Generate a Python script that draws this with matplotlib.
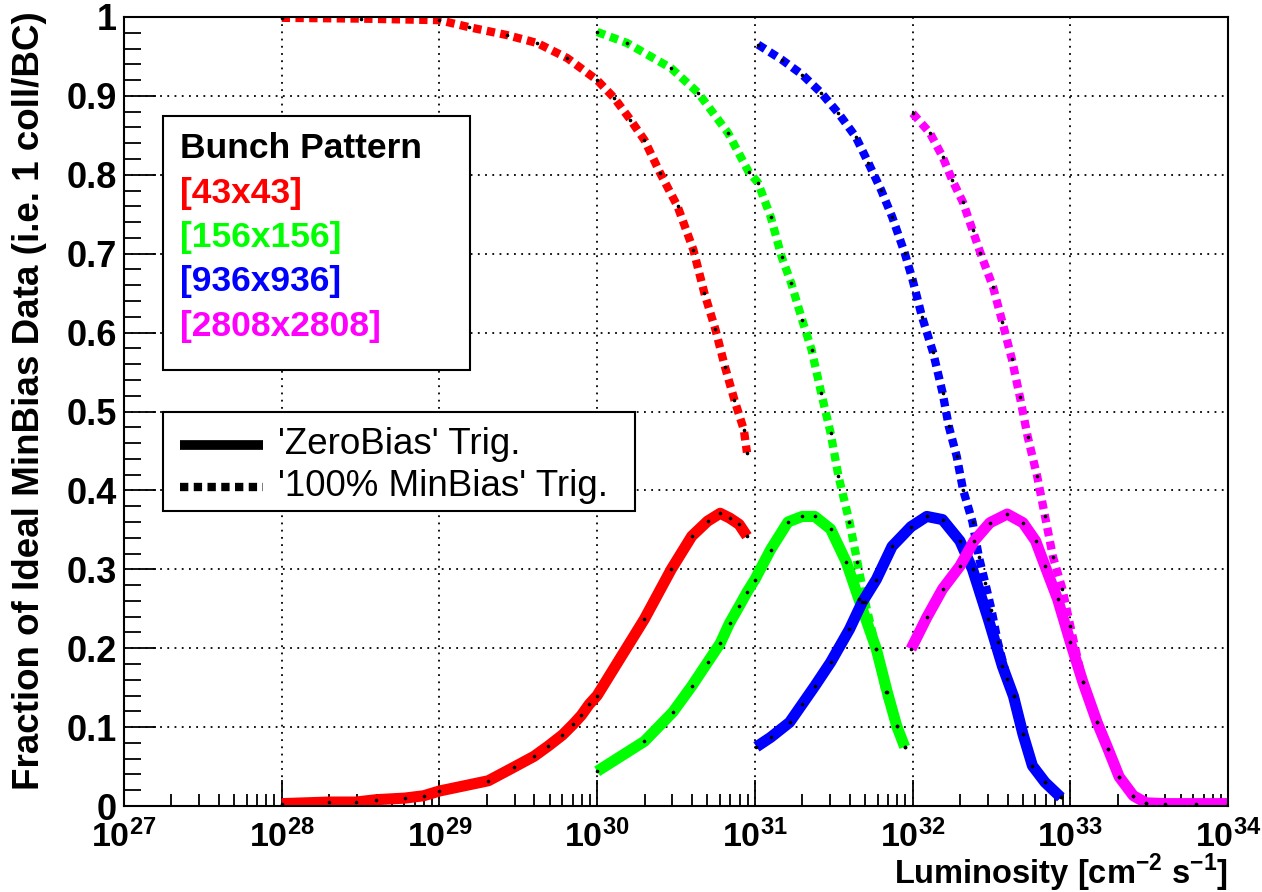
import numpy as np
import matplotlib.pyplot as plt
from matplotlib.patches import Rectangle
from matplotlib.lines import Line2D
from matplotlib.ticker import LogLocator, MultipleLocator, NullFormatter

plt.rcParams['font.family'] = ['Liberation Sans', 'DejaVu Sans']
plt.rcParams['mathtext.fontset'] = 'custom'
plt.rcParams['mathtext.rm'] = 'Liberation Sans'
plt.rcParams['mathtext.bf'] = 'Liberation Sans:bold'

# luminosity given as log10(L)
# 'ZeroBias' trigger (solid)
red_zb_lx = [28.0, 28.3, 28.47, 28.6, 28.78, 28.9, 29.0, 29.31, 29.47, 29.6, 29.69, 29.78,
             29.85, 29.9, 29.95, 30.0, 30.3, 30.47, 30.6, 30.7, 30.78, 30.84, 30.9, 30.95]
red_zb_y = [0.003, 0.005, 0.005, 0.008, 0.010, 0.013, 0.019, 0.032, 0.049, 0.063, 0.076, 0.090,
            0.104, 0.115, 0.129, 0.140, 0.237, 0.300, 0.342, 0.361, 0.371, 0.365, 0.357, 0.342]

green_zb_lx = [30.0, 30.3, 30.48, 30.6, 30.7, 30.78, 30.84, 30.9, 30.95, 31.0, 31.1, 31.21,
               31.3, 31.38, 31.48, 31.58, 31.66, 31.77, 31.84, 31.9, 31.95]
green_zb_y = [0.044, 0.082, 0.119, 0.152, 0.182, 0.206, 0.232, 0.253, 0.271, 0.287, 0.325, 0.360,
              0.367, 0.367, 0.351, 0.309, 0.262, 0.199, 0.144, 0.101, 0.075]

blue_zb_lx = [31.01, 31.1, 31.22, 31.3, 31.38, 31.48, 31.6, 31.68, 31.77, 31.87, 31.99, 32.09,
              32.19, 32.3, 32.38, 32.48, 32.57, 32.64, 32.7, 32.76, 32.84, 32.94]
blue_zb_y = [0.075, 0.087, 0.106, 0.129, 0.152, 0.182, 0.224, 0.258, 0.287, 0.329, 0.354, 0.367,
             0.363, 0.336, 0.300, 0.237, 0.177, 0.139, 0.091, 0.051, 0.030, 0.011]

mag_zb_lx = [31.99, 32.09, 32.19, 32.3, 32.39, 32.49, 32.6, 32.7, 32.78, 32.84, 32.92, 33.0,
             33.08, 33.17, 33.24, 33.31, 33.4, 33.48, 33.6, 33.8, 34.0]
mag_zb_y = [0.199, 0.239, 0.275, 0.304, 0.336, 0.359, 0.370, 0.359, 0.336, 0.304, 0.262, 0.208,
            0.157, 0.106, 0.072, 0.037, 0.013, 0.004, 0.003, 0.003, 0.003]

# '100% MinBias' trigger (dotted)
red_mb_lx = [28.0, 28.5, 29.0, 29.19, 29.43, 29.62, 29.81, 30.0, 30.11, 30.21, 30.3, 30.4,
             30.51, 30.61, 30.68, 30.75, 30.81, 30.87, 30.93, 30.95]
red_mb_y = [0.999, 0.998, 0.996, 0.987, 0.977, 0.967, 0.948, 0.920, 0.897, 0.870, 0.844, 0.802,
            0.760, 0.705, 0.650, 0.604, 0.557, 0.515, 0.477, 0.448]

green_mb_lx = [30.0, 30.19, 30.47, 30.64, 30.83, 30.96, 31.02, 31.1, 31.17, 31.23, 31.3, 31.36,
               31.42, 31.48, 31.53, 31.6, 31.65, 31.7, 31.77, 31.83, 31.9, 31.95]
green_mb_y = [0.981, 0.967, 0.935, 0.904, 0.853, 0.804, 0.790, 0.747, 0.696, 0.663, 0.616, 0.578,
              0.524, 0.473, 0.418, 0.360, 0.309, 0.258, 0.199, 0.144, 0.101, 0.075]

blue_mb_lx = [31.02, 31.17, 31.3, 31.42, 31.53, 31.64, 31.72, 31.8, 31.87, 31.95, 32.0, 32.06,
              32.13, 32.19, 32.23, 32.28, 32.32, 32.38, 32.42, 32.46, 32.5, 32.54, 32.6, 32.64,
              32.7, 32.76, 32.84, 32.94]
blue_mb_y = [0.965, 0.946, 0.927, 0.904, 0.878, 0.848, 0.815, 0.781, 0.747, 0.701, 0.667, 0.620,
             0.575, 0.524, 0.481, 0.443, 0.401, 0.360, 0.316, 0.283, 0.249, 0.208, 0.161, 0.139,
             0.091, 0.051, 0.030, 0.011]

mag_mb_lx = [32.0, 32.11, 32.19, 32.25, 32.32, 32.38, 32.43, 32.51, 32.57, 32.63, 32.68, 32.73,
             32.79, 32.84, 32.89, 32.95, 33.0, 33.08, 33.17, 33.24, 33.31, 33.4, 33.48]
mag_mb_y = [0.878, 0.853, 0.823, 0.794, 0.765, 0.730, 0.701, 0.658, 0.613, 0.566, 0.519, 0.468,
            0.418, 0.367, 0.316, 0.275, 0.228, 0.157, 0.106, 0.072, 0.037, 0.013, 0.004]

patterns = ['[43x43]', '[156x156]', '[936x936]', '[2808x2808]']
colors = ['#ff0000', '#00ff00', '#0000ff', '#ff00ff']

zb = [(red_zb_lx, red_zb_y), (green_zb_lx, green_zb_y), (blue_zb_lx, blue_zb_y), (mag_zb_lx, mag_zb_y)]
mb = [(red_mb_lx, red_mb_y), (green_mb_lx, green_mb_y), (blue_mb_lx, blue_mb_y), (mag_mb_lx, mag_mb_y)]

W, H = 1262, 892
fig = plt.figure(figsize=(W / 100, H / 100), dpi=100)
ax = fig.add_axes([124 / W, 1 - 806 / H, (1228 - 124) / W, (806 - 17) / H])

dotted = (0, (1.0, 0.65))
for (lx, y), c in zip(mb, colors):
    ax.plot(10 ** np.array(lx), y, color=c, lw=6, linestyle=dotted, dash_capstyle='butt')
for (lx, y), c in zip(zb, colors):
    ax.plot(10 ** np.array(lx), y, color=c, lw=8, solid_capstyle='butt')
for (lx, y) in zb + mb:
    ax.plot(10 ** np.array(lx), y, ls='none', marker='o', ms=1.6, color='black')

ax.set_xscale('log')
ax.set_xlim(1e27, 1e34)
ax.set_ylim(0, 1)

ax.xaxis.set_minor_locator(LogLocator(base=10, subs=np.arange(2, 10), numticks=100))
ax.xaxis.set_minor_formatter(NullFormatter())
ax.set_xticks([10.0 ** e for e in range(27, 35)])
ax.set_xticklabels([r'$\mathbf{10^{%d}}$' % e for e in range(27, 35)], fontsize=24.5)

ax.yaxis.set_minor_locator(MultipleLocator(0.02))
ax.set_yticks(np.arange(0, 1.01, 0.1))
ax.set_yticklabels(['0'] + ['%.1f' % v for v in np.arange(0.1, 0.95, 0.1)] + ['1'],
                   fontsize=26, fontweight='bold')

ax.tick_params(axis='x', which='major', direction='in', length=19, width=1.3, pad=10)
ax.tick_params(axis='x', which='minor', direction='in', length=9, width=1.3)
ax.tick_params(axis='y', which='major', direction='in', length=23, width=1.3, pad=5)
ax.tick_params(axis='y', which='minor', direction='in', length=12, width=1.3)
ax.tick_params(top=False, right=False, which='both')
for s in ax.spines.values():
    s.set_linewidth(1.5)

ax.grid(which='major', color='black', linestyle=(0, (1, 3)), linewidth=1.3)

fig.text(30 / W, 1 - 401 / H, 'Fraction of Ideal MinBias Data (i.e. 1 coll/BC)', rotation=90,
         ha='center', va='center', fontsize=26.5, fontweight='bold')
fig.text(1228 / W, 1 - 884 / H, r'Luminosity [cm$^{\mathbf{-2}}$ s$^{\mathbf{-1}}$]',
         ha='right', va='baseline', fontsize=23.5, fontweight='bold')

# box with bunch patterns
fig.patches.append(Rectangle((163 / W, 1 - 370 / H), (470 - 163) / W, (370 - 116) / H,
                             transform=fig.transFigure, fill=True, facecolor='white',
                             edgecolor='black', lw=1.5, zorder=5))
fig.text(180 / W, 1 - 148 / H, 'Bunch Pattern', ha='left', va='center', fontsize=25.5,
         fontweight='bold', zorder=6)
for i, (p, c) in enumerate(zip(patterns, colors)):
    fig.text(180 / W, 1 - (193 + 44.5 * i) / H, p, color=c, ha='left', va='center',
             fontsize=25.5, fontweight='bold', zorder=6)

# box with trigger styles
fig.patches.append(Rectangle((163 / W, 1 - 511 / H), (635 - 163) / W, (511 - 412) / H,
                             transform=fig.transFigure, fill=True, facecolor='white',
                             edgecolor='black', lw=1.5, zorder=5))
fig.lines.append(Line2D([180 / W, 263 / W], [1 - 445 / H, 1 - 445 / H], transform=fig.transFigure,
                        color='black', lw=7, solid_capstyle='butt', zorder=6))
fig.lines.append(Line2D([180 / W, 263 / W], [1 - 487 / H, 1 - 487 / H], transform=fig.transFigure,
                        color='black', lw=6, linestyle=dotted, dash_capstyle='butt', zorder=6))
fig.text(278 / W, 1 - 445 / H, "'ZeroBias' Trig.", ha='left', va='center', fontsize=26.5, zorder=6)
fig.text(278 / W, 1 - 487 / H, "'100% MinBias' Trig.", ha='left', va='center', fontsize=26.5, zorder=6)

fig.savefig('out.png', dpi=100, facecolor='white')
